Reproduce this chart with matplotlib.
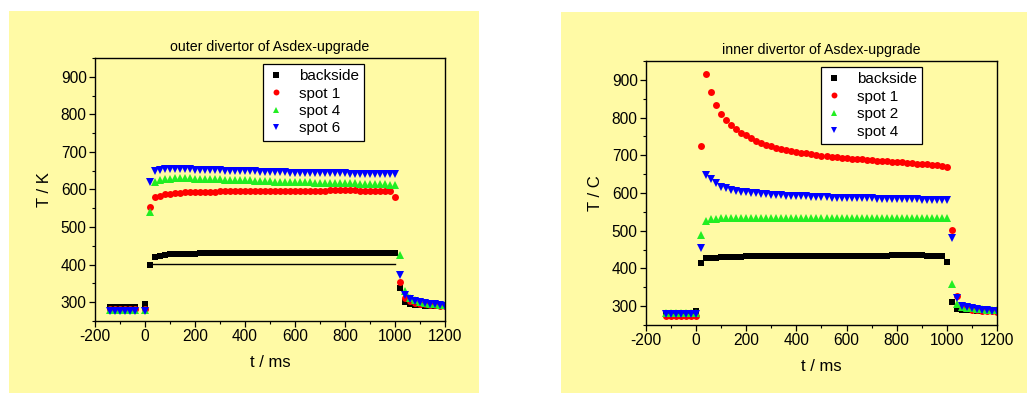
import numpy as np
import matplotlib
matplotlib.use("Agg")
import matplotlib.pyplot as plt
from matplotlib.patches import Rectangle
from matplotlib.ticker import MultipleLocator

plt.rcParams['font.family'] = ['Liberation Sans', 'DejaVu Sans']
plt.rcParams['axes.unicode_minus'] = False

# time grids (ms)
t_pre_out = [-140, -120, -100, -80, -60, -40, 0]
t_pre_in = [-120, -100, -80, -60, -40, -20, 0]
t_pulse = [20, 40, 60, 80, 100, 120, 140, 160, 180, 200,
           220, 240, 260, 280, 300, 320, 340, 360, 380, 400,
           420, 440, 460, 480, 500, 520, 540, 560, 580, 600,
           620, 640, 660, 680, 700, 720, 740, 760, 780, 800,
           820, 840, 860, 880, 900, 920, 940, 960, 980, 1000]
t_post = [1020, 1040, 1060, 1080, 1100, 1120, 1140, 1160, 1180, 1200]

# outer divertor (T / K)
out_back = [287, 287, 287, 287, 287, 287, 296] + \
    [398, 420, 424, 426, 427, 428, 428, 429, 429, 429,
     430, 430, 430, 430, 430, 430, 430, 431, 431, 431,
     431, 431, 431, 431, 431, 431, 431, 431, 431, 431,
     431, 431, 431, 432, 432, 432, 432, 432, 432, 432,
     432, 432, 432, 432, 432, 432, 432, 432, 432, 432] + \
    [337, 300, 295, 293, 292, 291, 291, 290, 290, 290]
out_spot1 = [281, 281, 281, 281, 281, 281, 281] + \
    [553, 580, 584, 587, 588, 590, 591, 592, 592, 593,
     593, 594, 594, 594, 595, 595, 595, 595, 595, 596,
     596, 596, 596, 596, 597, 597, 597, 597, 597, 597,
     597, 597, 597, 597, 597, 597, 598, 598, 598, 598,
     598, 598, 597, 597, 597, 597, 597, 597, 597, 580] + \
    [355, 310, 302, 298, 296, 294, 293, 292, 291, 290]
out_spot4 = [280, 280, 280, 280, 280, 280, 280] + \
    [540, 620, 625, 628, 629, 630, 630, 630, 630, 629,
     629, 628, 628, 627, 627, 626, 626, 625, 625, 624,
     624, 623, 623, 622, 622, 621, 621, 620, 620, 620,
     619, 619, 619, 618, 618, 618, 617, 617, 617, 616,
     616, 616, 615, 615, 615, 614, 614, 614, 613, 612] + \
    [425, 330, 312, 305, 300, 298, 296, 294, 293, 292]
out_spot6 = [276, 276, 276, 276, 276, 276, 276] + \
    [620, 650, 652, 654, 655, 655, 655, 654, 654, 653,
     653, 652, 652, 651, 651, 650, 650, 649, 649, 648,
     648, 648, 647, 647, 647, 646, 646, 646, 645, 645,
     645, 645, 644, 644, 644, 644, 643, 643, 643, 643,
     642, 642, 642, 642, 641, 641, 641, 641, 640, 640] + \
    [372, 318, 308, 304, 300, 298, 296, 295, 293, 291]
out_line_t = [20, 1000]
out_line_T = [402, 402]

# inner divertor (T / C)
in_back = [283, 283, 283, 283, 283, 283, 286] + \
    [415, 427, 428, 429, 430, 430, 431, 431, 431, 432,
     432, 432, 432, 432, 432, 433, 433, 433, 433, 433,
     433, 433, 433, 433, 433, 434, 434, 434, 434, 434,
     434, 434, 434, 434, 434, 434, 434, 434, 435, 435,
     435, 435, 435, 435, 435, 434, 434, 434, 434, 416] + \
    [312, 293, 291, 290, 289, 288, 287, 287, 286, 286]
in_spot1 = [275, 275, 275, 275, 275, 275, 275] + \
    [726, 916, 869, 834, 810, 794, 780, 769, 760, 753,
     745, 739, 733, 728, 724, 720, 716, 713, 711, 709,
     707, 705, 703, 701, 699, 698, 696, 695, 693, 692,
     691, 690, 689, 688, 687, 686, 685, 684, 683, 682,
     681, 680, 679, 678, 677, 676, 675, 674, 672, 670] + \
    [503, 328, 298, 294, 291, 289, 288, 287, 286, 285]
in_spot2 = [281, 281, 281, 281, 281, 281, 281] + \
    [490, 527, 531, 532, 533, 533, 534, 534, 534, 534,
     535, 535, 535, 535, 535, 535, 535, 535, 535, 535,
     535, 535, 535, 535, 535, 535, 535, 535, 535, 535,
     535, 535, 535, 535, 535, 535, 535, 535, 535, 535,
     534, 534, 534, 534, 534, 534, 534, 534, 534, 533] + \
    [358, 305, 298, 296, 294, 293, 292, 291, 290, 289]
in_spot4 = [278, 278, 278, 278, 278, 278, 278] + \
    [453, 648, 637, 626, 616, 612, 608, 606, 604, 602,
     600, 599, 598, 597, 596, 595, 594, 593, 593, 592,
     591, 591, 590, 590, 589, 589, 588, 588, 588, 587,
     587, 587, 586, 586, 586, 585, 585, 585, 584, 584,
     584, 583, 583, 583, 582, 582, 582, 581, 581, 581] + \
    [482, 322, 300, 297, 295, 293, 291, 290, 288, 287]

YELLOW = '#fffaa5'
GREEN = '#22ee22'

fig = plt.figure(figsize=(10.27, 3.94), dpi=100)
fig.patches.append(Rectangle((0.0088, 0.0025), 0.4577, 0.9695, transform=fig.transFigure,
                             facecolor=YELLOW, edgecolor='none', zorder=-10))
fig.patches.append(Rectangle((0.5463, 0.0025), 0.4537, 0.967, transform=fig.transFigure,
                             facecolor=YELLOW, edgecolor='none', zorder=-10))

ax1 = fig.add_axes([0.0925, 0.1853, 0.3408, 0.6675])
ax2 = fig.add_axes([0.629, 0.1751, 0.3418, 0.670])


def draw(ax, t_pre, series, labels, title, ylabel, leg_x):
    t_all = t_pre + t_pulse + t_post
    styles = [('s', 'black', 4.6), ('o', 'red', 5.0), ('^', GREEN, 5.4), ('v', 'blue', 5.4)]
    for vals, lab, (m, c, ms) in zip(series, labels, styles):
        ax.plot(t_all, vals, linestyle='none', marker=m, color=c, markersize=ms,
                markeredgewidth=0, label=lab)
    ax.set_facecolor(YELLOW)
    ax.set_xlim(-200, 1200)
    ax.set_ylim(250, 950)
    ax.xaxis.set_major_locator(MultipleLocator(200))
    ax.xaxis.set_minor_locator(MultipleLocator(100))
    ax.yaxis.set_major_locator(MultipleLocator(100))
    ax.yaxis.set_minor_locator(MultipleLocator(50))
    ax.tick_params(which='major', direction='out', length=4, width=0.9, labelsize=11.2, pad=2)
    ax.tick_params(which='minor', direction='out', length=2.5, width=0.8)
    for sp in ax.spines.values():
        sp.set_linewidth(1.0)
    ax.set_title(title, fontsize=10.2, pad=5)
    ax.set_xlabel('t / ms', fontsize=12, labelpad=8)
    ax.set_ylabel(ylabel, fontsize=12, labelpad=6)
    leg = ax.legend(loc='upper left', bbox_to_anchor=(leg_x, 0.977), fontsize=11,
                    frameon=True, fancybox=False, framealpha=1, edgecolor='black',
                    handlelength=1.0, handletextpad=1.0, borderpad=0.35, labelspacing=0.22,
                    borderaxespad=0.0, markerscale=0.85)
    leg.get_frame().set_linewidth(0.9)
    return ax


draw(ax1, t_pre_out, [out_back, out_spot1, out_spot4, out_spot6],
     ['backside', 'spot 1', 'spot 4', 'spot 6'], 'outer divertor of Asdex-upgrade', 'T / K', 0.48)
ax1.plot(out_line_t, out_line_T, color='black', linewidth=1.0)

draw(ax2, t_pre_in, [in_back, in_spot1, in_spot2, in_spot4],
     ['backside', 'spot 1', 'spot 2', 'spot 4'], 'inner divertor of Asdex-upgrade', 'T / C', 0.4986)

fig.savefig('out.png', dpi=100)
